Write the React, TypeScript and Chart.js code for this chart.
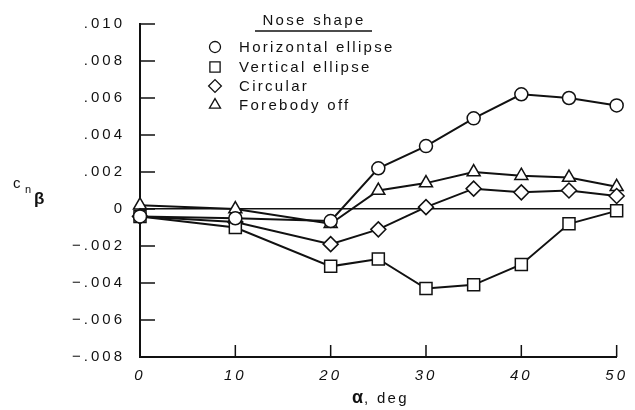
import React, { useEffect, useRef } from "react";
import { Chart, registerables } from "chart.js";
import { drawPoint } from "chart.js/helpers";

Chart.register(...registerables);

// ---- data ----
const alpha = [0, 10, 20, 25, 30, 35, 40, 45, 50];
const horizontalEllipse = [-0.0004, -0.0005, -0.00065, 0.0022, 0.0034, 0.0049, 0.0062, 0.006, 0.0056];
const verticalEllipse = [-0.0004, -0.001, -0.0031, -0.0027, -0.0043, -0.0041, -0.003, -0.0008, -0.0001];
const circular = [-0.0004, -0.0007, -0.0019, -0.0011, 0.0001, 0.0011, 0.0009, 0.001, 0.0007];
const forebodyOff = [0.0002, 0.0, -0.0008, 0.001, 0.0014, 0.002, 0.0018, 0.0017, 0.0012];
const seriesNames = ["Horizontal ellipse", "Vertical ellipse", "Circular", "Forebody off"];
const legendTitle = "Nose shape";

const yTickValues = [-0.008, -0.006, -0.004, -0.002, 0, 0.002, 0.004, 0.006, 0.008, 0.01];
const yTickLabels = ["\u2212.008", "\u2212.006", "\u2212.004", "\u2212.002", "0", ".002", ".004", ".006", ".008", ".010"];
const xTickValues = [0, 10, 20, 30, 40, 50];
const xTickLabels = ["0", "10", "20", "30", "40", "50"];

const FONT = "'Liberation Sans', Arial, sans-serif";

const styles = [
  { pointStyle: "circle", radius: 6.5 },
  { pointStyle: "rect", radius: 8.5 },
  { pointStyle: "rectRot", radius: 7.5 },
  { pointStyle: "triangle", radius: 7.5 },
];

const spacingPlugin = {
  id: "spacing",
  beforeDraw(chart: any) {
    chart.ctx.letterSpacing = "3px";
  },
};

const inwardTicks = {
  id: "inwardTicks",
  afterDraw(chart: any) {
    const { ctx, chartArea, scales } = chart;
    ctx.save();
    ctx.strokeStyle = "#111";
    ctx.lineWidth = 1.5;
    ctx.beginPath();
    yTickValues.forEach((v) => {
      const y = scales.y.getPixelForValue(v);
      ctx.moveTo(chartArea.left, y);
      ctx.lineTo(chartArea.left + 15, y);
    });
    xTickValues.forEach((v) => {
      const x = scales.x.getPixelForValue(v);
      ctx.moveTo(x, chartArea.bottom);
      ctx.lineTo(x, chartArea.bottom - 12);
    });
    ctx.stroke();
    ctx.restore();
  },
};

const annotations = {
  id: "annotations",
  afterDraw(chart: any) {
    const ctx = chart.ctx;
    ctx.save();
    ctx.fillStyle = "#111";
    ctx.strokeStyle = "#111";
    ctx.letterSpacing = "2.3px";
    // legend heading
    ctx.font = `15px ${FONT}`;
    ctx.textAlign = "center";
    ctx.textBaseline = "alphabetic";
    ctx.fillText(legendTitle, 314, 25);
    ctx.lineWidth = 1.5;
    ctx.beginPath();
    ctx.moveTo(255, 31);
    ctx.lineTo(372, 31);
    ctx.stroke();
    // legend entries
    const rows = [47, 67, 86, 105];
    ctx.textAlign = "left";
    ctx.textBaseline = "middle";
    chart.data.datasets.forEach((ds: any, i: number) => {
      ctx.save();
      ctx.fillStyle = "#fff";
      ctx.strokeStyle = "#111";
      ctx.lineWidth = 1.3;
      drawPoint(ctx, { pointStyle: ds.pointStyle, radius: ds.pointRadius * 0.85, rotation: 0, borderWidth: 1.3 }, 215, rows[i]);
      ctx.restore();
      ctx.fillText(ds.label, 239, rows[i] + 1);
    });
    // y title
    ctx.letterSpacing = "0px";
    ctx.textAlign = "left";
    ctx.textBaseline = "alphabetic";
    ctx.font = `15px ${FONT}`;
    ctx.fillText("c", 13, 188);
    ctx.font = `11px ${FONT}`;
    ctx.fillText("n", 25, 193);
    ctx.font = `bold 17px ${FONT}`;
    ctx.fillText("β", 34, 204);
    // x title
    ctx.font = `bold 18px ${FONT}`;
    ctx.fillText("α", 352, 403);
    ctx.font = `15px ${FONT}`;
    ctx.letterSpacing = "2.3px";
    ctx.fillText(", deg", 364, 403);
    ctx.restore();
  },
};

export default function App() {
  const ref = useRef<HTMLCanvasElement>(null);
  useEffect(() => {
    document.body.style.margin = "0";
    const all = [horizontalEllipse, verticalEllipse, circular, forebodyOff];
    const chart = new Chart(ref.current as HTMLCanvasElement, {
      type: "line",
      data: {
        datasets: all.map((vals, i) => ({
          label: seriesNames[i],
          data: alpha.map((a, j) => ({ x: a, y: vals[j] })),
          borderColor: "#111",
          borderWidth: 2,
          pointStyle: styles[i].pointStyle as any,
          pointRadius: styles[i].radius,
          pointBackgroundColor: "#fff",
          pointBorderColor: "#111",
          pointBorderWidth: 1.5,
          tension: 0,
          clip: false as any,
          fill: false,
        })),
      },
      options: {
        animation: false,
        responsive: false,
        devicePixelRatio: 1,
        layout: { padding: { left: 0, top: 19, right: 13, bottom: 0 } },
        plugins: { legend: { display: false }, tooltip: { enabled: false } },
        scales: {
          x: {
            type: "linear",
            min: 0,
            max: 50,
            afterFit: (s: any) => { s.height = 53; },
            afterBuildTicks: (s: any) => { s.ticks = xTickValues.map((v) => ({ value: v })); },
            grid: { display: false, drawTicks: false },
            border: { display: true, color: "#111", width: 2 },
            ticks: {
              padding: 10,
              color: "#111",
              font: { family: FONT, size: 15, style: "italic" },
              callback: (_v: any, i: number) => xTickLabels[i],
              maxRotation: 0,
            },
          },
          y: {
            type: "linear",
            min: -0.008,
            max: 0.01,
            afterFit: (s: any) => { s.width = 140; },
            afterBuildTicks: (s: any) => { s.ticks = yTickValues.map((v) => ({ value: v })); },
            grid: {
              display: true,
              drawTicks: false,
              lineWidth: 1.5,
              color: (c: any) => (c.tick && c.tick.value === 0 ? "#111" : "rgba(0,0,0,0)"),
            },
            border: { display: true, color: "#111", width: 2 },
            ticks: {
              padding: 15,
              color: "#111",
              font: { family: FONT, size: 15 },
              callback: (_v: any, i: number) => yTickLabels[i],
            },
          },
        },
      },
      plugins: [spacingPlugin, inwardTicks, annotations],
    });
    return () => chart.destroy();
  }, []);
  return (
    <div style={{ width: 635, height: 410, background: "#fff" }}>
      <canvas ref={ref} width={635} height={410} style={{ display: "block" }} />
    </div>
  );
}
